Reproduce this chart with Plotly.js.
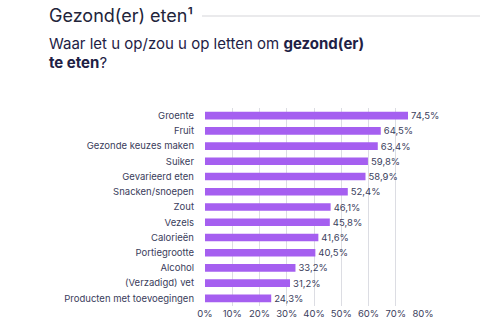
<!DOCTYPE html>
<html>
<head>
<meta charset="utf-8">
<script src="https://cdn.plot.ly/plotly-3.0.1.min.js"></script>
<style>
html,body{margin:0;padding:0;background:#fff;}
#chart{width:500px;height:326px;}
</style>
</head>
<body>
<div id="chart"></div>
<script>
const categories = ["Groente","Fruit","Gezonde keuzes maken","Suiker","Gevarieerd eten","Snacken/snoepen","Zout","Vezels","Calorieën","Portiegrootte","Alcohol","(Verzadigd) vet","Producten met toevoegingen"];
const values = [74.5,64.5,63.4,59.8,58.9,52.4,46.1,45.8,41.6,40.5,33.2,31.2,24.3];
const tickVals = [0,10,20,30,40,50,60,70,80];
const tickText = ["0%","10%","20%","30%","40%","50%","60%","70%","80%"];

const labels = values.map(v => v.toFixed(1).replace('.', ',') + '%');
const font = "Inter, 'Open Sans', sans-serif";
const textColor = "#3a3d5c";

const trace = {
  type: 'bar',
  orientation: 'h',
  x: values,
  y: categories,
  text: labels,
  textposition: 'outside',
  constraintext: 'none',
  cliponaxis: false,
  textfont: {family: font, size: 9.5, color: textColor},
  marker: {color: '#a55ff0'},
  width: 0.5,
  hoverinfo: 'none'
};

const layout = {
  width: 500, height: 326,
  margin: {l: 205, r: 77, t: 108, b: 20},
  paper_bgcolor: '#fff', plot_bgcolor: '#fff',
  showlegend: false,
  font: {family: font, color: textColor},
  xaxis: {
    range: [0, 80],
    tickvals: tickVals, ticktext: tickText,
    showgrid: true, gridcolor: '#dcdde3', gridwidth: 1,
    zeroline: false, showline: false,
    tickfont: {family: font, size: 9.5, color: textColor},
    ticks: '', fixedrange: true
  },
  yaxis: {
    autorange: 'reversed',
    showgrid: false, zeroline: false, showline: false,
    tickfont: {family: font, size: 9.5, color: textColor},
    ticks: '', ticklabelstandoff: 10, fixedrange: true
  },
  annotations: [
    {xref: 'paper', yref: 'paper', x: -158/218, y: 1 + (108-15)/198, xanchor: 'left', yanchor: 'middle',
     text: 'Gezond(er) eten¹', showarrow: false, font: {family: font, size: 18, color: '#22243a'}},
    {xref: 'paper', yref: 'paper', x: -158/218, y: 1 + (108-44)/198, xanchor: 'left', yanchor: 'middle',
     text: 'Waar let u op/zou u op letten om <b>gezond(er)</b>', showarrow: false, font: {family: font, size: 15, color: '#1e2145'}},
    {xref: 'paper', yref: 'paper', x: -158/218, y: 1 + (108-63)/198, xanchor: 'left', yanchor: 'middle',
     text: '<b>te eten</b>?', showarrow: false, font: {family: font, size: 15, color: '#1e2145'}}
  ],
  shapes: [
    {type: 'line', xref: 'paper', yref: 'paper', x0: -3/218, x1: 275/218, y0: 1 + (108-16)/198, y1: 1 + (108-16)/198,
     line: {color: '#e3e3e6', width: 1.5}}
  ]
};

Plotly.newPlot('chart', [trace], layout, {displayModeBar: false, staticPlot: true});
</script>
</body>
</html>
